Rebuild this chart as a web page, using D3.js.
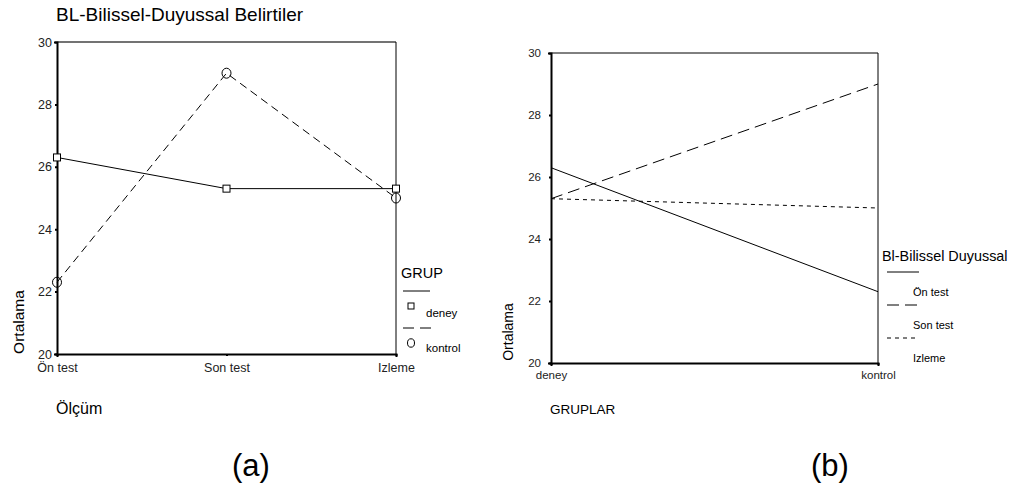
<!DOCTYPE html>
<html>
<head>
<meta charset="utf-8">
<script src="https://cdn.jsdelivr.net/npm/d3@7"></script>
<style>
  html, body { margin: 0; padding: 0; background: #fff; }
  svg { display: block; font-family: Arial, "Liberation Sans", sans-serif; }
</style>
</head>
<body>
<svg id="chart" width="1013" height="488"></svg>
<script>
// Measurement occasions and groups
const olcumler = ["Ön test", "Son test", "Izleme"];
const gruplar = ["deney", "kontrol"];

// Mean scores per group across occasions
const deney = [26.3, 25.3, 25.3];
const kontrol = [22.3, 29.0, 25.0];

const yTicks = [20, 22, 24, 26, 28, 30];

const svg = d3.select("#chart");
const ink = "#000";

svg.append("text")
  .attr("x", 56).attr("y", 21)
  .attr("font-size", 19)
  .text("BL-Bilissel-Duyussal Belirtiler");

// ---------- Panel (a): means by occasion ----------
const A = { left: 57, right: 396, top: 42, bottom: 354 };
const xa = d3.scalePoint().domain(olcumler).range([A.left, A.right]);
const ya = d3.scaleLinear().domain([20, 30]).range([A.bottom, A.top]);

const ga = svg.append("g");
// frame
ga.append("line").attr("x1", A.left).attr("x2", A.right).attr("y1", A.top).attr("y2", A.top)
  .attr("stroke", "#444").attr("stroke-width", 1.4);
ga.append("line").attr("x1", A.right).attr("x2", A.right).attr("y1", A.top).attr("y2", A.bottom)
  .attr("stroke", ink).attr("stroke-width", 1);

const yAxA = ga.append("g").attr("transform", `translate(${A.left},0)`)
  .call(d3.axisLeft(ya).tickValues(yTicks).tickSize(3).tickPadding(2));
const xAxA = ga.append("g").attr("transform", `translate(0,${A.bottom})`)
  .call(d3.axisBottom(xa).tickSize(3).tickPadding(4));
[yAxA, xAxA].forEach(ax => {
  ax.select(".domain").attr("stroke", ink).attr("stroke-width", 2);
  ax.selectAll(".tick line").attr("stroke", ink).attr("stroke-width", 2);
  ax.selectAll(".tick text").attr("font-size", 12.5).attr("fill", "#222")
    .attr("font-family", "Arial, 'Liberation Sans', sans-serif");
});
yAxA.selectAll(".tick line").attr("x2", -2);
xAxA.selectAll(".tick line").attr("y2", 2);
xAxA.selectAll(".tick text").attr("dy", "0.85em");

const lineA = d3.line().x((d, i) => xa(olcumler[i])).y(d => ya(d));
ga.append("path").datum(deney).attr("d", lineA)
  .attr("fill", "none").attr("stroke", ink).attr("stroke-width", 1);
ga.append("path").datum(kontrol).attr("d", lineA)
  .attr("fill", "none").attr("stroke", ink).attr("stroke-width", 1)
  .attr("stroke-dasharray", "8,5");

ga.selectAll("rect.m").data(deney).join("rect").attr("class", "m")
  .attr("x", (d, i) => xa(olcumler[i]) - 3.5).attr("y", d => ya(d) - 3.5)
  .attr("width", 7).attr("height", 7)
  .attr("fill", "#fff").attr("stroke", ink).attr("stroke-width", 1);
ga.selectAll("ellipse.m").data(kontrol).join("ellipse").attr("class", "m")
  .attr("cx", (d, i) => xa(olcumler[i])).attr("cy", d => ya(d))
  .attr("rx", 4.5).attr("ry", 5)
  .attr("fill", "none").attr("stroke", ink).attr("stroke-width", 1);

ga.append("text").attr("transform", `translate(24,322) rotate(-90)`)
  .attr("text-anchor", "middle").attr("font-size", 15.5).text("Ortalama");
ga.append("text").attr("x", 56).attr("y", 414).attr("font-size", 16).text("Ölçüm");

// legend (a)
const la = svg.append("g");
la.append("text").attr("x", 401).attr("y", 278).attr("font-size", 14.5).text("GRUP");
la.append("line").attr("x1", 403).attr("x2", 430).attr("y1", 291).attr("y2", 291)
  .attr("stroke", ink).attr("stroke-width", 1);
la.append("rect").attr("x", 408).attr("y", 303).attr("width", 6).attr("height", 6)
  .attr("fill", "#fff").attr("stroke", ink);
la.append("text").attr("x", 426).attr("y", 317).attr("font-size", 11.5).text(gruplar[0]);
la.append("line").attr("x1", 403).attr("x2", 431).attr("y1", 328).attr("y2", 328)
  .attr("stroke", ink).attr("stroke-width", 1).attr("stroke-dasharray", "11,6");
la.append("ellipse").attr("cx", 411).attr("cy", 343).attr("rx", 3.5).attr("ry", 4.2)
  .attr("fill", "none").attr("stroke", ink);
la.append("text").attr("x", 426).attr("y", 352).attr("font-size", 11.5).text(gruplar[1]);

svg.append("text").attr("x", 251).attr("y", 476).attr("text-anchor", "middle")
  .attr("font-size", 31).text("(a)");

// ---------- Panel (b): means by group ----------
// One line per occasion, across groups
const seriesB = [
  { name: olcumler[0], values: [deney[0], kontrol[0]], dash: null },
  { name: olcumler[1], values: [deney[1], kontrol[1]], dash: "12,6" },
  { name: olcumler[2], values: [deney[2], kontrol[2]], dash: "4,4" }
];

const B = { left: 551, right: 878, top: 53, bottom: 363 };
const xb = d3.scalePoint().domain(gruplar).range([B.left, B.right]);
const yb = d3.scaleLinear().domain([20, 30]).range([B.bottom, B.top]);

const gb = svg.append("g");
gb.append("line").attr("x1", B.left).attr("x2", B.right).attr("y1", B.top).attr("y2", B.top)
  .attr("stroke", ink).attr("stroke-width", 1);
gb.append("line").attr("x1", B.right).attr("x2", B.right).attr("y1", B.top).attr("y2", B.bottom)
  .attr("stroke", ink).attr("stroke-width", 1);

const yAxB = gb.append("g").attr("transform", `translate(${B.left},0)`)
  .call(d3.axisLeft(yb).tickValues(yTicks).tickSize(3).tickPadding(7));
const xAxB = gb.append("g").attr("transform", `translate(0,${B.bottom})`)
  .call(d3.axisBottom(xb).tickSize(3).tickPadding(3));
[yAxB, xAxB].forEach(ax => {
  ax.select(".domain").attr("stroke", ink).attr("stroke-width", 2);
  ax.selectAll(".tick line").attr("stroke", ink).attr("stroke-width", 2);
  ax.selectAll(".tick text").attr("font-size", 11.5).attr("fill", "#222")
    .attr("font-family", "Arial, 'Liberation Sans', sans-serif");
});
yAxB.selectAll(".tick line").attr("x2", -2);
xAxB.selectAll(".tick line").attr("y2", 2);
xAxB.selectAll(".tick text").attr("dy", "0.85em");

const lineB = d3.line().x((d, i) => xb(gruplar[i])).y(d => yb(d));
gb.selectAll("path.s").data(seriesB).join("path").attr("class", "s")
  .attr("d", d => lineB(d.values))
  .attr("fill", "none").attr("stroke", ink).attr("stroke-width", 1)
  .attr("stroke-dasharray", d => d.dash);

gb.append("text").attr("transform", `translate(513,332) rotate(-90)`)
  .attr("text-anchor", "middle").attr("font-size", 14).text("Ortalama");
gb.append("text").attr("x", 550).attr("y", 414).attr("font-size", 13.5).text("GRUPLAR");

// legend (b)
const lb = svg.append("g");
lb.append("text").attr("x", 882).attr("y", 261).attr("font-size", 14.4).text("Bl-Bilissel Duyussal");
seriesB.forEach((s, i) => {
  const yl = 272 + i * 33;
  lb.append("line").attr("x1", 887).attr("x2", 919).attr("y1", yl).attr("y2", yl)
    .attr("stroke", ink).attr("stroke-width", 1).attr("stroke-dasharray", s.dash);
  lb.append("text").attr("x", 913).attr("y", yl + 24).attr("font-size", 11).text(s.name);
});

svg.append("text").attr("x", 830).attr("y", 476).attr("text-anchor", "middle")
  .attr("font-size", 31).text("(b)");
</script>
</body>
</html>
